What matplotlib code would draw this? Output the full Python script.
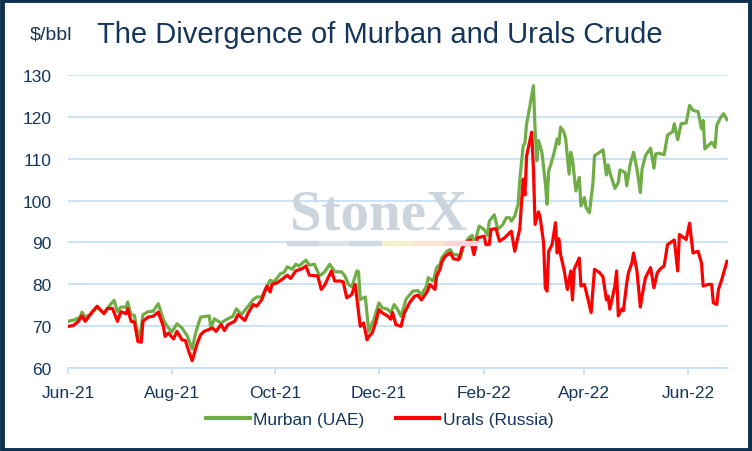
import matplotlib
matplotlib.use("Agg")
import matplotlib.pyplot as plt
import matplotlib.dates as mdates
from matplotlib.patches import Rectangle
from matplotlib.lines import Line2D
import pandas as pd

# values, days counted from 1 Jun 2021
start = pd.Timestamp("2021-06-01")

murban_days = [0, 4, 7, 8, 10, 13, 17, 21, 24, 27, 29, 31, 34, 35, 37, 39, 40, 42, 44, 47,
               50, 53, 56, 58, 61, 64, 67, 70, 73, 75, 77, 78, 83, 84, 86, 90, 93, 97, 99, 102,
               106, 109, 111, 114, 116, 119, 121, 123, 125, 127, 129, 132, 134, 136, 140, 142,
               145, 148, 151, 154, 157, 161, 163, 165, 167, 170, 171, 172, 175,
               177, 180, 183, 185, 188, 190, 192, 194, 196, 199, 203, 206, 208, 211, 212, 215,
               217, 219, 220, 223, 225, 227, 229, 231, 233, 236, 238, 239, 242, 245, 247, 248,
               251, 253, 256, 258, 260, 261, 263, 265, 266, 268, 269, 270, 272, 274, 275, 276,
               277, 279, 281, 282, 283, 284, 286, 288, 289, 290, 292, 293, 295, 296, 297, 299,
               301, 302, 304, 305, 307, 309, 310, 313, 315, 317, 318, 319, 322, 324, 325, 328,
               329, 331, 333, 335, 337, 338, 340, 343, 345, 346, 348, 351, 353, 356, 357, 359,
               361, 364, 366, 368, 371, 373, 374, 375, 377, 379, 381, 382, 384, 386, 388]
murban = [71.2, 71.6, 72.2, 73.4, 72.2, 72.8, 74.6, 73.2, 74.8, 76.2, 73.5, 74.6, 74.6, 75.8,
          72.8, 72.6, 70, 66.8, 72.8, 73.5, 73.6, 75.4, 71.6, 70.2, 68.6, 70.6, 69.6, 67.8,
          64.6, 68.4, 71, 72.2, 72.5, 69.6, 71.8, 70.8, 71.6, 72.4, 74.2, 72.8, 74.8, 76.4,
          77, 77, 78.8, 81, 80.6, 81.5, 82.6, 82.8, 84.2, 83.6, 84.8, 84.4, 85.8, 84.6, 84.8,
          82, 83, 84.8, 83, 83, 82, 80, 79.4, 83.2, 83, 76.4, 77,
          68.8, 71.6, 75.6, 74.4, 74.1, 73.3, 75.2, 74, 72.4, 76.5, 78.4, 78.5, 77.5, 79.6,
          81.6, 80.8, 84, 84.8, 86.3, 87.9, 88.3, 87.1, 87.1, 86.3, 89.5, 91.1, 91.7, 89.1,
          93.9, 93.1, 91.7, 95.1, 96.6, 93.1, 94.3, 95.9, 95.9, 95.1, 96.3, 99.1, 105.1, 113.1,
          113.7, 118.3, 122.7, 127.4, 116.7, 109.5, 114.3, 111.5, 104.3, 99.1, 107.1, 108.3,
          111.1, 114.7, 113.5, 117.5, 116.3, 114.7, 106.3, 111.5, 109.9, 102.3, 105.5, 98.7,
          100.7, 98.3, 97.1, 103.9, 110.7, 111.5, 112.1, 106.1, 108.5, 106.7, 102.9, 104.3,
          107.3, 106.7, 103.5, 108.7, 111.5, 107.5, 101.9, 107.5, 110.7, 112.5, 107.7, 111.1,
          111.3, 110.9, 115.6, 116.4, 118.3, 114.5, 118.3, 118.5, 122.7, 121.5, 121.2, 117.1,
          119.1, 112.3, 113.1, 113.9, 112.7, 117.9, 119.6, 120.7, 119.3]

urals_days = [0, 3, 6, 8, 10, 14, 17, 21, 23, 26, 29, 31, 34, 35, 37, 39, 41, 43, 44, 47,
              50, 53, 56, 57, 59, 62, 64, 67, 69, 71, 73, 76, 78, 80, 85, 87, 90, 92, 94, 98,
              100, 104, 106, 109, 111, 114, 117, 119, 120, 123, 126, 129, 131, 134, 138, 140,
              142, 147, 149, 151, 155, 157, 160, 162, 164, 167, 169, 172, 174, 176,
              177, 179, 181, 183, 185, 188, 190, 191, 193, 196, 198, 201, 204, 206, 208, 211,
              212, 213, 216, 217, 219, 220, 222, 225, 227, 230, 232, 234, 237, 239, 241, 245,
              246, 248, 249, 252, 254, 257, 261, 263, 266, 267, 268, 269, 270, 273, 274, 275,
              277, 278, 280, 281, 282, 283, 285, 287, 288, 289, 290, 292, 294, 296, 297, 298,
              301, 302, 304, 305, 308, 310, 313, 315, 317, 318, 319, 322, 323, 324, 326, 327,
              329, 330, 332, 333, 335, 337, 338, 340, 343, 345, 347, 349, 351, 353, 357, 359,
              360, 364, 366, 368, 371, 373, 374, 377, 379, 380, 382, 383, 385, 388]
urals = [70, 70.2, 71.2, 72.5, 71.2, 73.4, 74.8, 73, 74.2, 74.3, 71.2, 73.5, 73, 74.2, 71.2,
         71, 66.4, 66.2, 71.2, 72.2, 72.4, 73.4, 70, 67.6, 68.4, 67, 68.8, 66.8, 66.6, 64,
         61.8, 66, 68, 68.8, 69.6, 68.8, 70.4, 69, 70.4, 71.2, 72.8, 71.4, 73.2, 75.2, 74.8,
         76.4, 79.6, 78.2, 80, 80.4, 81.2, 82.2, 81.4, 83.2, 83.8, 84.4, 82.2, 82, 78.8, 79.8,
         83.2, 80.8, 80.8, 80.6, 76.8, 77.6, 80, 70, 70.8, 66.8,
         67.6, 68.4, 70.8, 74, 73.2, 72.5, 71.7, 73.3, 70.4, 70, 73.2, 75.6, 77.2, 77.4, 76.3,
         78, 78.8, 80, 78.8, 82, 83.6, 85.3, 86.7, 87.5, 86.1, 85.9, 88.7, 89.9, 90.6, 87.1,
         91.1, 91.5, 89.5, 89.5, 93.1, 93.3, 90.3, 91.1, 92.7, 87.9, 93.3, 99.5, 105.1, 101.3,
         110.7, 116.3, 107.5, 94.3, 97.3, 95.9, 89.9, 79.2, 78.4, 87.9, 89.5, 94.7, 87.5, 90.9,
         87.1, 83.6, 78.8, 83.2, 76.3, 83.6, 86.3, 79.6, 80, 78.4, 73.3, 83.6, 82.8, 81.8,
         76.3, 77.2, 74.1, 79.6, 83.2, 72.5, 74.1, 73.7, 80.4, 82.8, 85.1, 87.5, 83.2, 74.6,
         77.2, 81.6, 84, 79.2, 82.8, 83.8, 84.4, 89.5, 90.6, 83.2, 91.9, 90.7, 94.6, 87.5,
         87.9, 85.1, 79.6, 80, 80, 75.6, 75.2, 78.8, 81.2, 85.5]

y_ticks = [60, 70, 80, 90, 100, 110, 120, 130]
series_names = ["Murban (UAE)", "Urals (Russia)"]

navy = "#15365a"
grid_blue = "#c6e0f7"
green = "#70ad47"
red = "#ff0000"

plt.rcParams["font.family"] = ["Liberation Sans", "DejaVu Sans"]

murban_dates = start + pd.to_timedelta(murban_days, unit="D")
urals_dates = start + pd.to_timedelta(urals_days, unit="D")

fig = plt.figure(figsize=(7.52, 4.52), dpi=100)
ax = fig.add_axes([0.0908, 0.183, 0.877, 0.6495])

ax.plot(murban_dates, murban, color=green, lw=2.3, zorder=3)
ax.plot(urals_dates, urals, color=red, lw=2.3, zorder=4)

ax.set_ylim(60, 130)
ax.set_yticks(y_ticks)
ax.set_xlim(start, start + pd.Timedelta(days=388.5))
ax.xaxis.set_major_locator(mdates.MonthLocator(bymonth=[2, 4, 6, 8, 10, 12]))
ax.xaxis.set_major_formatter(mdates.DateFormatter("%b-%y"))

ax.grid(axis="y", color=grid_blue, lw=1.3, zorder=0)
for side in ["top", "right", "left"]:
    ax.spines[side].set_visible(False)
ax.spines["bottom"].set_color(grid_blue)
ax.spines["bottom"].set_linewidth(1.3)
ax.tick_params(axis="y", length=0, pad=12, labelsize=12.5, labelcolor=navy)
ax.tick_params(axis="x", length=4, width=1.3, color=grid_blue, pad=8,
               labelsize=12.5, labelcolor=navy)

# watermark
fig.text(0.504, 0.524, "StoneX", ha="center", va="center", fontsize=41,
         fontweight="bold", family="Liberation Serif", color="#ccd4de", zorder=1)
bar_colors = ["#cfd8e2", "#dbe2ea", "#ccd9e6", "#f7f0cc", "#f8e6d3", "#f6d6d6"]
seg_w = 190 / 752 / len(bar_colors)
for i, c in enumerate(bar_colors):
    fig.add_artist(Rectangle((287 / 752 + i * seg_w, 1 - 246 / 452), seg_w, 4 / 452,
                             transform=fig.transFigure, color=c, zorder=1))

fig.text(0.129, 0.922, "The Divergence of Murban and Urals Crude", fontsize=21,
         color=navy, va="center", ha="left")
fig.text(0.040, 0.922, "$/bbl", fontsize=14, color=navy, va="center", ha="left")

handles = [Line2D([], [], color=green, lw=3), Line2D([], [], color=red, lw=3)]
fig.legend(handles, series_names, loc="center", bbox_to_anchor=(0.505, 0.069), ncol=2,
           frameon=False, fontsize=12.5, handlelength=2.5, handletextpad=0.2,
           columnspacing=1.8, labelcolor=navy)

# dark frame round the figure
fig.add_artist(Rectangle((0.002, 0.003), 0.996, 0.994, transform=fig.transFigure,
                         fill=False, edgecolor="#0d2f4f", lw=3.5))

fig.savefig("out.png", dpi=100)
